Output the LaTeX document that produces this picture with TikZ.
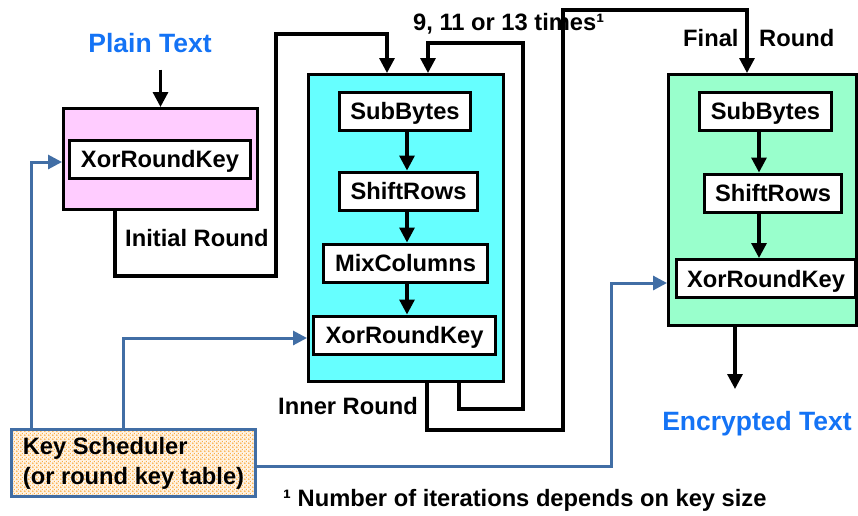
\documentclass[tikz,border=0pt]{standalone}
\usepackage{fontspec}
\setmainfont{Liberation Sans}
\usetikzlibrary{arrows.meta,patterns.meta}
\definecolor{pinkf}{HTML}{FFCCFF}
\definecolor{cyanf}{HTML}{66FFFF}
\definecolor{greenf}{HTML}{99FFCC}
\definecolor{keyblue}{RGB}{65,110,165}
\definecolor{titleblue}{RGB}{20,115,245}
\definecolor{ksdot}{RGB}{250,165,50}
\definecolor{ksbg}{RGB}{255,240,220}
\tikzdeclarepattern{
  name=ksdots,
  type=colored,
  bounding box={(0pt,0pt) and (4pt,4pt)},
  tile size={(4pt,4pt)},
  code={\fill[ksdot] (1pt,1pt) circle[radius=1pt]; \fill[ksdot] (3pt,3pt) circle[radius=0.7pt];}
}
\begin{document}
\begin{tikzpicture}[x=1pt,y=-1pt,
  txt/.style={font=\bfseries\fontsize{23.7}{30}\selectfont, inner sep=0pt, text height=17pt, text depth=0pt},
  ttl/.style={font=\bfseries\fontsize{26.5}{30}\selectfont, text=titleblue, inner sep=0pt, text height=19pt, text depth=0pt},
  opbox/.style={txt, draw=black, fill=white, line width=3pt, minimum height=38pt},
  roundbox/.style={draw=black, line width=3pt, inner sep=0pt},
  arr/.style={draw=black, line width=3.2pt, -{Triangle[length=15pt,width=15pt]}},
  barr/.style={draw=keyblue, line width=3pt, -{Triangle[length=14pt,width=14pt]}},
]
\useasboundingbox (0,0) rectangle (858,515);

% round boxes
\node[roundbox, fill=pinkf, minimum width=194pt, minimum height=101pt] (pink) at (160.5,159) {};
\node[roundbox, fill=cyanf, minimum width=195pt, minimum height=307pt] (inner) at (406,228) {};
\node[roundbox, fill=greenf, minimum width=188pt, minimum height=251pt] (final) at (762.5,200) {};

% operation boxes
\node[opbox, minimum width=181pt] (x0) at (160,159) {XorRoundKey};

\node[opbox, minimum width=131pt] (sb1) at (405,111) {SubBytes};
\node[opbox, minimum width=138pt] (sr1) at (408.5,191) {ShiftRows};
\node[opbox, minimum width=164pt] (mc1) at (405.5,263) {MixColumns};
\node[opbox, minimum width=182pt] (x1) at (404.5,335) {XorRoundKey};

\node[opbox, minimum width=132pt] (sb2) at (765.5,111) {SubBytes};
\node[opbox, minimum width=137pt] (sr2) at (773,193) {ShiftRows};
\node[opbox, minimum width=179pt] (x2) at (766,278.5) {XorRoundKey};

% key scheduler
\node[draw=keyblue, line width=3pt, preaction={fill=ksbg}, preaction={pattern={ksdots}},
  minimum width=244pt, minimum height=67pt, inner sep=0pt, align=left,
  font=\bfseries\fontsize{23.7}{30}\selectfont] (ks) at (133.5,463) {Key Scheduler\\(or round key table)};

% titles and labels
\node[ttl] (ptxt) at (150,43) {Plain Text};
\node[ttl] (enc) at (757,421) {Encrypted Text};
\node[txt, anchor=west] (linit) at (125,238) {Initial Round};
\node[txt, anchor=west] (linner) at (278,406) {Inner Round};
\node[txt, anchor=west] (ltimes) at (413,22) {9, 11 or 13 times¹};
\node[txt, anchor=west] (lfinal) at (683,38) {Final};
\node[txt, anchor=west] (lround) at (759,38) {Round};
\node[txt, anchor=west] (lnote) at (283,498) {¹ Number of iterations depends on key size};

\coordinate (out) at (735,389);

% black connectors
\draw[arr] (ptxt.south -| pink.north) ++(0,17) -- (pink.north);
\draw[arr] (sb1.south -| 407,0) -- (sr1.north -| 407,0);
\draw[arr] (sr1.south -| 407,0) -- (mc1.north -| 407,0);
\draw[arr] (mc1.south -| 407,0) -- (x1.north -| 407,0);
\draw[arr] (sb2.south -| 759,0) -- (sr2.north -| 759,0);
\draw[arr] (sr2.south -| 759,0) -- (x2.north -| 759,0);

\draw[arr, line join=miter] (pink.south -| 115,0) |- (276,276) |- (387,34) -- (inner.north -| 387,0);
\draw[arr, line join=miter] (inner.south -| 459,0) |- (523,409) |- (428,43) -- (inner.north -| 428,0);
\draw[arr, line join=miter] (inner.south -| 427,0) |- (563,430) |- (747,10) -- (final.north -| 747,0);
\draw[arr] (final.south -| out) -- (out);

% blue connectors
\draw[barr] (ks.north -| 31,0) |- (pink.west |- 0,162);
\draw[barr] (ks.north -| 123,0) |- (inner.west |- 0,338);
\draw[barr] (ks.east |- 0,466) -| (611,283) -- (final.west |- 0,283);
\end{tikzpicture}
\end{document}
